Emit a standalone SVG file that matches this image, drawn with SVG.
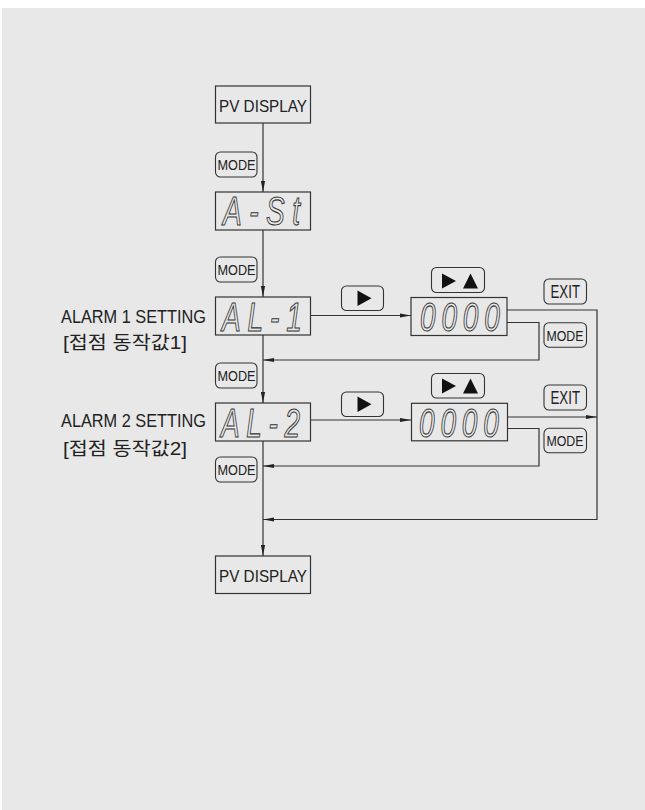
<svg xmlns="http://www.w3.org/2000/svg" width="645" height="810" viewBox="0 0 645 810">
<defs>
<style>
.box{fill:#e8e8e8;stroke:#333;stroke-width:1.2}
.btn{fill:#e8e8e8;stroke:#333;stroke-width:1.1}
.ln{fill:none;stroke:#333;stroke-width:1.2}
.lbl{font-family:"Liberation Sans",Arial,sans-serif;fill:#222}
.seg{font-family:"Liberation Sans",Arial,sans-serif;font-style:italic;font-size:40px;fill:none;stroke:#333;stroke-width:1.1}
.kr{font-family:"Liberation Sans","Noto Sans CJK KR",sans-serif;font-size:18px;fill:#222}
.tri{fill:#111}
</style>
<marker id="ah" markerUnits="userSpaceOnUse" markerWidth="11" markerHeight="6" refX="11" refY="3" orient="auto">
<path d="M0,0.9 L11,3 L0,5.1 Z" fill="#222"/>
</marker>
</defs>
<rect x="0" y="0" width="645" height="810" fill="#ffffff"/>
<rect x="2" y="8" width="643" height="802" fill="#e8e8e8"/>

<g id="connectors">
<line class="ln" x1="263" y1="123" x2="263" y2="192" marker-end="url(#ah)"/>
<line class="ln" x1="263" y1="230" x2="263" y2="297" marker-end="url(#ah)"/>
<line class="ln" x1="263" y1="335" x2="263" y2="403" marker-end="url(#ah)"/>
<line class="ln" x1="263" y1="441" x2="263" y2="556" marker-end="url(#ah)"/>
<line class="ln" x1="310.5" y1="315.5" x2="411" y2="315.5" marker-end="url(#ah)"/>
<line class="ln" x1="310.5" y1="420" x2="411" y2="420" marker-end="url(#ah)"/>
<polyline class="ln" points="507,310 597,310 597,519.5 263,519.5" marker-end="url(#ah)"/>
<polyline class="ln" points="507,322.5 539,322.5 539,360 263,360" marker-end="url(#ah)"/>
<line class="ln" x1="507" y1="417" x2="597" y2="417" marker-end="url(#ah)"/>
<polyline class="ln" points="507,428.5 539,428.5 539,466 263,466" marker-end="url(#ah)"/>
</g>

<g id="pv-display-1">
<rect class="box" x="215.5" y="86" width="95" height="37"/>
<text class="lbl" x="219" y="111.7" font-size="17" textLength="88" lengthAdjust="spacingAndGlyphs">PV DISPLAY</text>
</g>
<g id="mode-btn-1">
<rect class="btn" x="215.5" y="152" width="41.5" height="25" rx="5"/>
<text class="lbl" x="217.5" y="170" font-size="14" textLength="38" lengthAdjust="spacingAndGlyphs">MODE</text>
</g>
<g id="a-st">
<rect class="box" x="215.5" y="192" width="95" height="38"/>
<text class="seg" x="0" y="0" transform="translate(223,225) scale(0.7,1)" textLength="110" lengthAdjust="spacing">A-St</text>
</g>
<g id="mode-btn-2">
<rect class="btn" x="215.5" y="257" width="41.5" height="25" rx="5"/>
<text class="lbl" x="217.5" y="275" font-size="14" textLength="38" lengthAdjust="spacingAndGlyphs">MODE</text>
</g>

<g id="al-1">
<rect class="box" x="215.5" y="297" width="95" height="38"/>
<text class="seg" x="0" y="0" transform="translate(222,331) scale(0.7,1)" textLength="114" lengthAdjust="spacing">AL-1</text>
</g>
<g id="alarm1-label">
<text class="lbl" x="61" y="323.3" font-size="17.5" textLength="145" lengthAdjust="spacingAndGlyphs">ALARM 1 SETTING</text>
<text class="kr" x="63" y="349" textLength="124" lengthAdjust="spacingAndGlyphs">[접점 동작값1]</text>
</g>
<g id="right-btn-1">
<rect class="btn" x="341.5" y="286" width="42" height="24.5" rx="5"/>
<polygon class="tri" points="357.5,290.5 371.5,298.2 357.5,306"/>
</g>
<g id="value-1">
<rect class="box" x="411" y="297.5" width="96" height="38"/>
<text class="seg" x="0" y="0" transform="translate(420,331) scale(0.7,1)" textLength="114" lengthAdjust="spacing">0000</text>
</g>
<g id="right-up-btn-1">
<rect class="btn" x="431.5" y="267.5" width="53" height="25" rx="5"/>
<polygon class="tri" points="442,273.5 456,281 442,288.5"/>
<polygon class="tri" points="463,288.5 470.5,273.5 478,288.5"/>
</g>
<g id="exit-btn-1">
<rect class="btn" x="544" y="279" width="42.5" height="25" rx="5"/>
<text class="lbl" x="550.5" y="298.3" font-size="17.5" textLength="29.5" lengthAdjust="spacingAndGlyphs">EXIT</text>
</g>
<g id="mode-btn-r1">
<rect class="btn" x="544" y="322.7" width="42.5" height="24.5" rx="5"/>
<text class="lbl" x="546.5" y="340.7" font-size="15" textLength="37" lengthAdjust="spacingAndGlyphs">MODE</text>
</g>
<g id="mode-btn-3">
<rect class="btn" x="215.5" y="363" width="41.5" height="25" rx="5"/>
<text class="lbl" x="217.5" y="381" font-size="14" textLength="38" lengthAdjust="spacingAndGlyphs">MODE</text>
</g>

<g id="al-2">
<rect class="box" x="215.5" y="403" width="95" height="38"/>
<text class="seg" x="0" y="0" transform="translate(221,436.5) scale(0.7,1)" textLength="113" lengthAdjust="spacing">AL-2</text>
</g>
<g id="alarm2-label">
<text class="lbl" x="61" y="426.7" font-size="17.5" textLength="145" lengthAdjust="spacingAndGlyphs">ALARM 2 SETTING</text>
<text class="kr" x="63" y="455" textLength="124" lengthAdjust="spacingAndGlyphs">[접점 동작값2]</text>
</g>
<g id="right-btn-2">
<rect class="btn" x="341.5" y="392" width="42" height="24.5" rx="5"/>
<polygon class="tri" points="357.5,396.5 371.5,404.3 357.5,412"/>
</g>
<g id="value-2">
<rect class="box" x="411.5" y="403.3" width="96" height="37.5"/>
<text class="seg" x="0" y="0" transform="translate(419,436.5) scale(0.7,1)" textLength="114" lengthAdjust="spacing">0000</text>
</g>
<g id="right-up-btn-2">
<rect class="btn" x="431.5" y="373.5" width="53" height="24.5" rx="5"/>
<polygon class="tri" points="442,378.5 456,386 442,393.5"/>
<polygon class="tri" points="463,393.5 470.5,378.5 478,393.5"/>
</g>
<g id="exit-btn-2">
<rect class="btn" x="544" y="385" width="42.5" height="25" rx="5"/>
<text class="lbl" x="550.5" y="404.3" font-size="17.5" textLength="29.5" lengthAdjust="spacingAndGlyphs">EXIT</text>
</g>
<g id="mode-btn-r2">
<rect class="btn" x="544" y="428.3" width="42.5" height="24.5" rx="5"/>
<text class="lbl" x="546.5" y="446.3" font-size="15" textLength="37" lengthAdjust="spacingAndGlyphs">MODE</text>
</g>
<g id="mode-btn-4">
<rect class="btn" x="215.5" y="457" width="41.5" height="25" rx="5"/>
<text class="lbl" x="217.5" y="475" font-size="14" textLength="38" lengthAdjust="spacingAndGlyphs">MODE</text>
</g>

<g id="pv-display-2">
<rect class="box" x="215.5" y="556" width="95" height="37.5"/>
<text class="lbl" x="219" y="581.5" font-size="17" textLength="88" lengthAdjust="spacingAndGlyphs">PV DISPLAY</text>
</g>
</svg>
